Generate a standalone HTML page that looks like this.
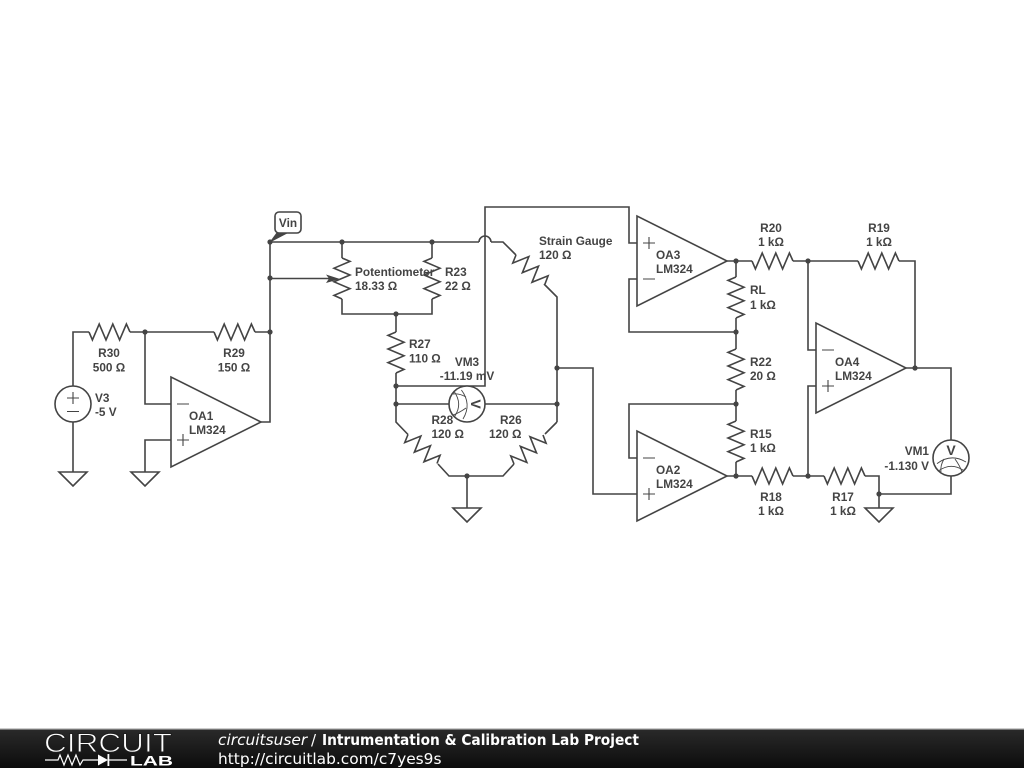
<!DOCTYPE html>
<html><head><meta charset="utf-8"><style>
html,body{margin:0;padding:0;background:#fff;width:1024px;height:768px;overflow:hidden}
svg{display:block}
.w{fill:none;stroke:#444;stroke-width:1.6;stroke-linejoin:miter}
.t{font-family:"Liberation Sans",sans-serif;font-weight:bold;font-size:11.8px;fill:#444}
.m{text-anchor:middle}.e{text-anchor:end}
.f{font-family:"DejaVu Sans",sans-serif;fill:#fff}
</style></head><body>
<svg width="1024" height="768" viewBox="0 0 1024 768" xmlns="http://www.w3.org/2000/svg">
<defs>
<linearGradient id="g" x1="0" y1="0" x2="0" y2="1"><stop offset="0" stop-color="#2a2a2a"/><stop offset="1" stop-color="#0c0c0c"/></linearGradient>
<polyline id="r" class="w" points="0,0 3.4,8 10.2,-8 17,8 23.8,-8 30.6,8 37.4,-8 41,0"/>
<polygon id="gnd" class="w" points="-14,0 14,0 0,14"/>
<g id="meter" class="w"><path d="M-14,5.600 Q0,-5 15,4" style="stroke-width:.9"/><path d="M-12.700,13 Q0,4 12.300,12.300" style="stroke-width:.9"/><path d="M-7,1 Q-11,8 -10,14" style="stroke-width:.9"/><path d="M4,1 Q9,8 11,14" style="stroke-width:.9"/></g>
</defs>
<g style="filter:blur(0.35px)">
<!-- wires -->
<path class="w" d="M73,386V332H89M130,332H214M255,332H270M145,332V404H171M171,440H145V472M73,422V472"/>
<path class="w" d="M261,422H270V242H479M491,242H503L516,255M544,284L557,297V422M270,278.500H330"/>
<path class="w" d="M479,242A6,6 0 0 1 491,242"/>
<path class="w" d="M342,242V258M342,299V314H432V299M432,242V258M396,314V332M396,373V422L408,434.500M438,464L449,476H503L514,464M545,434L557,422"/>
<path class="w" d="M396,386H485V207H629V243H637M396,404H449M485,404H557M557,368H593V494H637"/>
<path class="w" d="M467,476V508"/>
<path class="w" d="M637,279H629V332H736M727,261H752M793,261H858M899,261H915V368M808,261V350H816M816,386H808V476"/>
<path class="w" d="M736,261V277M736,318V349M736,390V421M736,462V476M727,476H752M793,476H824M865,476H879V508M637,458H629V404H736"/>
<path class="w" d="M906,368H951V440M951,476V494H879"/>
<!-- resistors -->
<use href="#r" transform="translate(89,332)"/>
<use href="#r" transform="translate(214,332)"/>
<use href="#r" transform="translate(342,258) rotate(90) scale(1,-1)"/>
<use href="#r" transform="translate(432,258) rotate(90)"/>
<use href="#r" transform="translate(396,332) rotate(90)"/>
<use href="#r" transform="translate(516,255) rotate(45)"/>
<use href="#r" transform="translate(408,434.500) rotate(45)"/>
<use href="#r" transform="translate(514,464) rotate(-45) scale(1,-1)"/>
<use href="#r" transform="translate(752,261)"/>
<use href="#r" transform="translate(858,261)"/>
<use href="#r" transform="translate(736,277) rotate(90)"/>
<use href="#r" transform="translate(736,349) rotate(90)"/>
<use href="#r" transform="translate(736,421) rotate(90)"/>
<use href="#r" transform="translate(752,476)"/>
<use href="#r" transform="translate(824,476)"/>
<!-- opamps -->
<polygon class="w" points="171,377 171,467 261,422"/>
<polygon class="w" points="637,216 637,306 727,261"/>
<polygon class="w" points="637,431 637,521 727,476"/>
<polygon class="w" points="816,323 816,413 906,368"/>
<path class="w" style="stroke-width:1.1" d="M177,404H189M177,440H189M183,434V446M643,243H655M649,237V249M643,279H655M643,458H655M643,494H655M649,488V500M822,350H834M822,386H834M828,380V392"/>
<!-- grounds -->
<use href="#gnd" transform="translate(73,472)"/>
<use href="#gnd" transform="translate(145,472)"/>
<use href="#gnd" transform="translate(467,508)"/>
<use href="#gnd" transform="translate(879,508)"/>
<!-- source -->
<circle class="w" cx="73" cy="404" r="18"/>
<path class="w" style="stroke-width:1.1" d="M67,398H79M73,392V404M67,411.500H79"/>
<!-- meters -->
<circle class="w" style="fill:#fff" cx="467" cy="404" r="18"/>
<circle class="w" style="fill:#fff" cx="951" cy="458" r="18"/>
<use href="#meter" transform="translate(951,458)"/>
<use href="#meter" transform="translate(467,404) rotate(90)"/>
<text class="t m" x="951" y="455" style="font-size:14px">V</text>
<text class="t m" transform="translate(476,404) rotate(90)" y="0" x="0" dy="5" style="font-size:14px">V</text>
<!-- pot arrow -->
<polygon fill="#444" points="326,274.500 340,279 326,283 329,278.500"/>
<!-- dots -->
<g fill="#444">
<circle cx="145" cy="332" r="2.6"/><circle cx="270" cy="332" r="2.6"/><circle cx="270" cy="278" r="2.6"/><circle cx="270" cy="242" r="2.6"/>
<circle cx="342" cy="242" r="2.6"/><circle cx="432" cy="242" r="2.6"/><circle cx="396" cy="314" r="2.6"/><circle cx="396" cy="386" r="2.6"/><circle cx="396" cy="404" r="2.6"/>
<circle cx="557" cy="368" r="2.6"/><circle cx="557" cy="404" r="2.6"/><circle cx="467" cy="476" r="2.6"/>
<circle cx="736" cy="261" r="2.6"/><circle cx="736" cy="332" r="2.6"/><circle cx="736" cy="404" r="2.6"/><circle cx="736" cy="476" r="2.6"/>
<circle cx="808" cy="261" r="2.6"/><circle cx="808" cy="476" r="2.6"/><circle cx="915" cy="368" r="2.6"/><circle cx="879" cy="494" r="2.6"/>
</g>
<!-- Vin -->
<polygon fill="#444" points="269,243 277,232 290,232"/>
<rect x="275" y="212" width="26" height="21" rx="4" fill="#fff" stroke="#444" stroke-width="1.6"/>
<text class="t m" x="288" y="227">Vin</text>
<!-- labels -->
<text class="t m" x="109" y="357">R30</text><text class="t m" x="109" y="371.500">500 Ω</text>
<text class="t m" x="234" y="357">R29</text><text class="t m" x="234" y="371.500">150 Ω</text>
<text class="t" x="95" y="402">V3</text><text class="t" x="95" y="416">-5 V</text>
<text class="t" x="189" y="420">OA1</text><text class="t" x="189" y="434">LM324</text>
<text class="t" x="355" y="276">Potentiometer</text><text class="t" x="355" y="290">18.33 Ω</text>
<text class="t" x="445" y="276">R23</text><text class="t" x="445" y="290">22 Ω</text>
<text class="t" x="409" y="348">R27</text><text class="t" x="409" y="362.500">110 Ω</text>
<text class="t m" x="467" y="366">VM3</text><text class="t m" x="467" y="380">-11.19 mV</text>
<text class="t" x="431.500" y="424">R28</text><text class="t" x="431.500" y="438">120 Ω</text>
<text class="t" x="500" y="424">R26</text><text class="t" x="489" y="438">120 Ω</text>
<text class="t" x="539" y="245">Strain Gauge</text><text class="t" x="539" y="259">120 Ω</text>
<text class="t" x="656" y="259">OA3</text><text class="t" x="656" y="273">LM324</text>
<text class="t m" x="771" y="232">R20</text><text class="t m" x="771" y="246">1 kΩ</text>
<text class="t m" x="879" y="232">R19</text><text class="t m" x="879" y="246">1 kΩ</text>
<text class="t" x="750" y="294">RL</text><text class="t" x="750" y="309">1 kΩ</text>
<text class="t" x="750" y="366">R22</text><text class="t" x="750" y="380">20 Ω</text>
<text class="t" x="750" y="438">R15</text><text class="t" x="750" y="452">1 kΩ</text>
<text class="t" x="656" y="474">OA2</text><text class="t" x="656" y="488">LM324</text>
<text class="t" x="835" y="366">OA4</text><text class="t" x="835" y="380">LM324</text>
<text class="t m" x="771" y="501">R18</text><text class="t m" x="771" y="515">1 kΩ</text>
<text class="t m" x="843" y="501">R17</text><text class="t m" x="843" y="515">1 kΩ</text>
<text class="t e" x="929" y="455">VM1</text><text class="t e" x="929" y="470">-1.130 V</text>
</g>
<!-- footer -->
<rect x="0" y="729" width="1024" height="39" fill="url(#g)"/>
<rect x="0" y="728.500" width="1024" height="1.200" fill="#999"/>
<text x="44" y="752" textLength="128" lengthAdjust="spacingAndGlyphs" font-family="Liberation Sans, sans-serif" font-size="26.500" fill="#fff" stroke="#1e1e1e" stroke-width="0.9" style="paint-order:fill stroke">CIRCUIT</text>
<path fill="none" stroke="#fff" stroke-width="1.2" d="M45,760H58L60,755L64,765L68,755L72,765L76,755L80,765L83,760H99M108,760H127"/>
<polygon fill="#fff" points="98,754.500 98,765.500 108,760"/><rect x="107.500" y="754" width="1.800" height="12" fill="#fff"/>
<text x="130" y="765.500" textLength="43" lengthAdjust="spacingAndGlyphs" font-family="Liberation Sans, sans-serif" font-weight="bold" font-size="14" fill="#fff">LAB</text>
<text class="f" x="218" y="745" font-size="15.400" font-style="italic">circuitsuser</text>
<text class="f" x="311" y="745" font-size="15">/</text>
<text class="f" x="322" y="745" font-size="15" font-weight="bold" textLength="317" lengthAdjust="spacingAndGlyphs">Intrumentation &amp; Calibration Lab Project</text>
<text class="f" x="218" y="764" font-size="15.400">http://circuitlab.com/c7yes9s</text>
</svg>
</body></html>
